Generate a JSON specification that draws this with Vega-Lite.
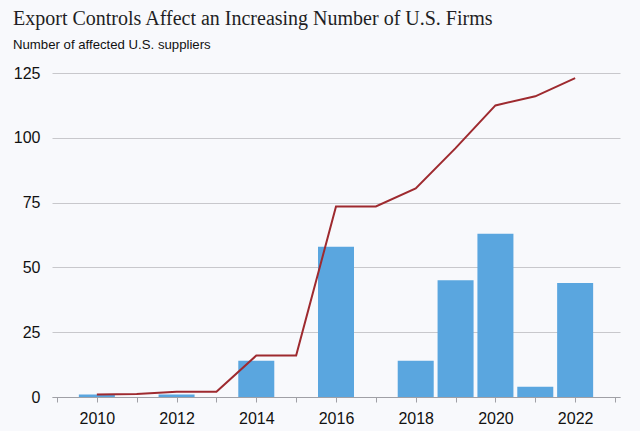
{
  "$schema": "https://vega.github.io/schema/vega-lite/v6.json",
  "width": 568,
  "height": 324,
  "autosize": "none",
  "padding": {"left": 52, "top": 73, "right": 20, "bottom": 34},
  "background": "#f8f9fc",
  "title": {
    "text": "Export Controls Affect an Increasing Number of U.S. Firms",
    "subtitle": "Number of affected U.S. suppliers",
    "anchor": "start",
    "frame": "group",
    "dx": -39,
    "offset": 14,
    "font": "Liberation Serif",
    "fontSize": 20,
    "fontWeight": "normal",
    "color": "#1f1f24",
    "subtitleFont": "Liberation Sans",
    "subtitleFontSize": 13.2,
    "subtitleColor": "#111111",
    "subtitlePadding": 10
  },
  "data": {
    "values": [
      {"year": 2010, "added": 1, "total": 1},
      {"year": 2011, "added": 0, "total": 1.2},
      {"year": 2012, "added": 1, "total": 2},
      {"year": 2013, "added": 0, "total": 2},
      {"year": 2014, "added": 14, "total": 16},
      {"year": 2015, "added": 0, "total": 16},
      {"year": 2016, "added": 58, "total": 73.5},
      {"year": 2017, "added": 0, "total": 73.5},
      {"year": 2018, "added": 14, "total": 80.5},
      {"year": 2019, "added": 45, "total": 96},
      {"year": 2020, "added": 63, "total": 112.5},
      {"year": 2021, "added": 4, "total": 116},
      {"year": 2022, "added": 44, "total": 123}
    ]
  },
  "encoding": {
    "x": {
      "field": "year",
      "type": "quantitative",
      "scale": {"domain": [2009, 2023], "nice": false, "zero": false},
      "axis": {
        "title": null,
        "values": [2009, 2010, 2011, 2012, 2013, 2014, 2015, 2016, 2017, 2018, 2019, 2020, 2021, 2022, 2023],
        "labelExpr": "datum.value % 2 == 0 && datum.value > 2009 && datum.value < 2023 ? datum.value : ''",
        "format": "d",
        "grid": false,
        "domainColor": "#a0a0a6",
        "tickColor": "#a0a0a6",
        "tickSize": 5,
        "labelFont": "Liberation Sans",
        "labelFontSize": 16,
        "labelColor": "#111111",
        "labelPadding": 8
      }
    }
  },
  "layer": [
    {
      "mark": {"type": "bar", "width": 36, "color": "#5aa6df"},
      "encoding": {
        "y": {
          "field": "added",
          "type": "quantitative",
          "scale": {"domain": [0, 125], "nice": false},
          "axis": {
            "title": null,
            "values": [0, 25, 50, 75, 100, 125],
            "domain": false,
            "ticks": false,
            "grid": true,
            "gridColor": "#c8c8cc",
            "labelFont": "Liberation Sans",
            "labelFontSize": 16,
            "labelColor": "#111111",
            "labelPadding": 12
          }
        }
      }
    },
    {
      "mark": {"type": "line", "color": "#9e2a2f", "strokeWidth": 2},
      "encoding": {
        "y": {"field": "total", "type": "quantitative"}
      }
    }
  ],
  "config": {"view": {"stroke": null}}
}
